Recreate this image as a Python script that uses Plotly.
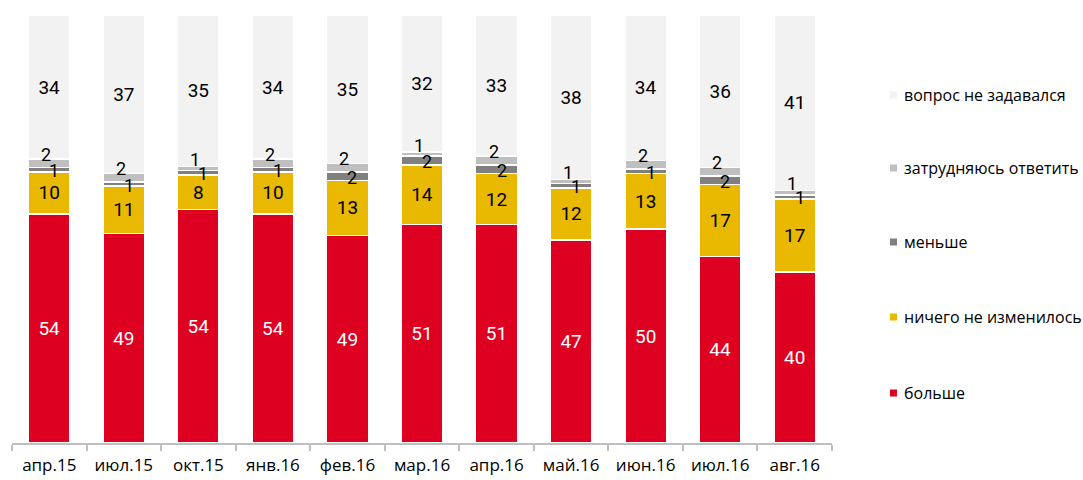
import plotly.graph_objects as go

# Survey waves
categories = ["апр.15", "июл.15", "окт.15", "янв.16", "фев.16", "мар.16",
              "апр.16", "май.16", "июн.16", "июл.16", "авг.16"]

# Answer shares, %
bolshe = [54, 49, 54, 54, 49, 51, 51, 47, 50, 44, 40]
nichego = [10, 11, 8, 10, 13, 14, 12, 12, 13, 17, 17]
menshe = [1, 1, 1, 1, 2, 2, 2, 1, 1, 2, 1]
zatrud = [2, 2, 1, 2, 2, 1, 2, 1, 2, 2, 1]
ne_zadavalsya = [34, 37, 35, 34, 35, 32, 33, 38, 34, 36, 41]

series = [
    ("больше", bolshe, "#DE0021", "white"),
    ("ничего не изменилось", nichego, "#E8B900", "black"),
    ("меньше", menshe, "#808080", "black"),
    ("затрудняюсь ответить", zatrud, "#BFBFBF", "black"),
    ("вопрос не задавался", ne_zadavalsya, "#F2F2F2", "black"),
]

NUM_FONT = "Roboto, Open Sans, sans-serif"
TXT_FONT = "Open Sans, sans-serif"

fig = go.Figure()
for name, vals, color, tcolor in series:
    big = [str(v) if v >= 5 else "" for v in vals]
    fig.add_trace(go.Bar(
        x=categories, y=vals, name=name,
        marker=dict(color=color, line=dict(color="white", width=1.5)),
        text=big, textposition="inside", insidetextanchor="middle",
        textangle=0, constraintext="none",
        textfont=dict(family=NUM_FONT, size=19, color=tcolor),
        showlegend=False, hoverinfo="x+y+name",
    ))

# Labels for the thin segments, placed beside their own segment
totals = [sum(s[1][i] for s in series) for i in range(len(categories))]
for i, cat in enumerate(categories):
    scale = 100.0 / totals[i]
    base = bolshe[i] + nichego[i]
    y_men = (base + menshe[i] / 2) * scale
    y_zat = (base + menshe[i] + zatrud[i] / 2) * scale
    fig.add_annotation(x=cat, y=y_men, text=str(menshe[i]), showarrow=False,
                       xshift=5, yshift=-1,
                       font=dict(family=NUM_FONT, size=18, color="black"))
    fig.add_annotation(x=cat, y=y_zat, text=str(zatrud[i]), showarrow=False,
                       xshift=-3, yshift=9,
                       font=dict(family=NUM_FONT, size=18, color="black"))

# Legend drawn at the right side
leg_y_px = [95, 168, 242, 317, 393]
plot_top, plot_bottom, plot_left, plot_w = 15, 443, 12, 820
for (name, vals, color, tcolor), ypx in zip(reversed(series), leg_y_px):
    yp = (plot_bottom - ypx) / (plot_bottom - plot_top)
    fig.add_shape(type="rect", xref="paper", yref="paper",
                  xsizemode="pixel", ysizemode="pixel",
                  xanchor=(893.5 - plot_left) / plot_w, yanchor=yp,
                  x0=-3.5, x1=3.5, y0=-3.5, y1=3.5,
                  fillcolor=color, line=dict(width=0))
    fig.add_annotation(xref="paper", yref="paper",
                       x=(902 - plot_left) / plot_w, y=yp,
                       xanchor="left", yanchor="middle", showarrow=False,
                       text=name, font=dict(family=TXT_FONT, size=16, color="black"))

fig.update_layout(
    barmode="stack", barnorm="percent", bargap=0.44,
    width=1083, height=480,
    margin=dict(l=12, r=251, t=15, b=37),
    plot_bgcolor="white", paper_bgcolor="white",
    font=dict(family=TXT_FONT, color="black"),
)
fig.update_xaxes(
    showline=True, linecolor="#BFBFBF", linewidth=2,
    ticks="outside", tickson="boundaries", ticklen=6, tickcolor="#BFBFBF",
    tickwidth=2, tickfont=dict(family=TXT_FONT, size=17, color="black"),
    ticklabelstandoff=6, automargin=False,
    showgrid=False, range=[-0.5, 10.5],
)
fig.update_yaxes(visible=False, range=[0, 100], showgrid=False)

fig.write_html("out.html")
